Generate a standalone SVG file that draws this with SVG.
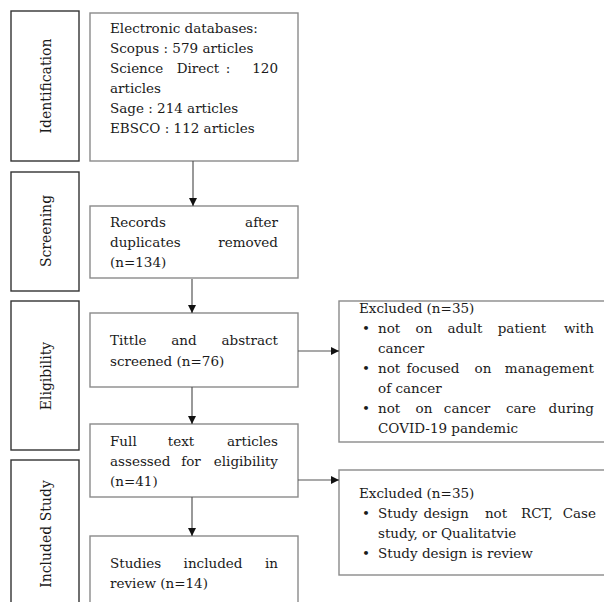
<svg xmlns="http://www.w3.org/2000/svg" width="604" height="602" viewBox="0 0 604 602">
<style>
text{font-family:"DejaVu Serif","Liberation Serif",serif;font-size:13.5px;fill:#1a1a1a}
.stage{fill:#fff;stroke:#333;stroke-width:1.4}
.box{fill:#fff;stroke:#8a8a8a;stroke-width:1.4}
.lbl{text-anchor:middle;font-size:14px}
.m{text-anchor:middle}
.e{text-anchor:end}
.conn{stroke:#555;stroke-width:1.2;fill:none}
</style>
<defs>
<marker id="ah" viewBox="0 0 10 10" refX="10" refY="5" markerWidth="8" markerHeight="8" markerUnits="userSpaceOnUse" orient="auto">
<path d="M0,0 L10,5 L0,10 Z" fill="#111"/>
</marker>
</defs>
<rect width="604" height="602" fill="#fff"/>
<g id="stage-identification">
<rect class="stage" x="11" y="11" width="68" height="150"/>
<text class="lbl" transform="translate(51,86) rotate(-90)">Identification</text>
</g>
<g id="stage-screening">
<rect class="stage" x="11" y="172" width="68" height="119"/>
<text class="lbl" transform="translate(51,231) rotate(-90)">Screening</text>
</g>
<g id="stage-eligibility">
<rect class="stage" x="11" y="301" width="68" height="149"/>
<text class="lbl" transform="translate(51,376) rotate(-90)">Eligibility</text>
</g>
<g id="stage-included">
<rect class="stage" x="11" y="460" width="68" height="160"/>
<text class="lbl" transform="translate(51,534) rotate(-90)">Included Study</text>
</g>
<g id="n-databases">
<rect class="box" x="90" y="13" width="208" height="148"/>
<text x="110" y="33">Electronic databases:</text>
<text x="110" y="53">Scopus : 579 articles</text>
<text x="110" y="73">Science</text><text class="m" x="198" y="73">Direct</text><text class="m" x="228" y="73">:</text><text class="e" x="278" y="73">120</text>
<text x="110" y="93">articles</text>
<text x="110" y="113">Sage : 214 articles</text>
<text x="110" y="133">EBSCO : 112 articles</text>
</g>
<g id="n-records">
<rect class="box" x="90" y="206" width="208" height="72"/>
<text x="110" y="227">Records</text><text class="e" x="278" y="227">after</text>
<text x="110" y="247">duplicates</text><text class="e" x="278" y="247">removed</text>
<text x="110" y="267">(n=134)</text>
</g>
<g id="n-title">
<rect class="box" x="90" y="313" width="208" height="74"/>
<text x="110" y="345">Tittle</text><text class="m" x="184" y="345">and</text><text class="e" x="278" y="345">abstract</text>
<text x="110" y="366">screened (n=76)</text>
</g>
<g id="n-fulltext">
<rect class="box" x="90" y="424" width="208" height="73"/>
<text x="110" y="446">Full</text><text class="m" x="181" y="446">text</text><text class="e" x="278" y="446">articles</text>
<text x="110" y="466">assessed</text><text class="m" x="191" y="466">for</text><text class="e" x="278" y="466">eligibility</text>
<text x="110" y="486">(n=41)</text>
</g>
<g id="n-included">
<rect class="box" x="90" y="536" width="208" height="80"/>
<text x="110" y="568">Studies</text><text class="m" x="213" y="568">included</text><text class="e" x="278" y="568">in</text>
<text x="110" y="588">review (n=14)</text>
</g>
<g id="n-excluded1">
<rect class="box" x="339" y="301" width="280" height="141"/>
<text x="359" y="313">Excluded (n=35)</text>
<text x="362" y="333">•</text>
<text x="378" y="333">not</text><text class="m" x="424" y="333">on</text><text class="m" x="465" y="333">adult</text><text class="m" x="522" y="333">patient</text><text class="e" x="594" y="333">with</text>
<text x="378" y="353">cancer</text>
<text x="362" y="373">•</text>
<text x="378" y="373">not</text><text class="m" x="433" y="373">focused</text><text class="m" x="483" y="373">on</text><text class="e" x="594" y="373">management</text>
<text x="378" y="393">of cancer</text>
<text x="362" y="413">•</text>
<text x="378" y="413">not</text><text class="m" x="424" y="413">on</text><text class="m" x="467" y="413">cancer</text><text class="m" x="521" y="413">care</text><text class="e" x="594" y="413">during</text>
<text x="378" y="433">COVID-19 pandemic</text>
</g>
<g id="n-excluded2">
<rect class="box" x="339" y="470" width="280" height="105"/>
<text x="359" y="498">Excluded (n=35)</text>
<text x="362" y="518">•</text>
<text x="378" y="518">Study</text><text class="m" x="446" y="518">design</text><text class="m" x="496" y="518">not</text><text class="m" x="537" y="518">RCT,</text><text class="e" x="596" y="518">Case</text>
<text x="378" y="538">study, or Qualitatvie</text>
<text x="362" y="558">•</text>
<text x="378" y="558">Study design is review</text>
</g>
<g id="connectors">
<line class="conn" x1="193" y1="161" x2="193" y2="206" marker-end="url(#ah)"/>
<line class="conn" x1="192" y1="279" x2="192" y2="313" marker-end="url(#ah)"/>
<line class="conn" x1="192" y1="387" x2="192" y2="424" marker-end="url(#ah)"/>
<line class="conn" x1="192" y1="497" x2="192" y2="536" marker-end="url(#ah)"/>
<line class="conn" x1="298" y1="351" x2="339" y2="351" marker-end="url(#ah)"/>
<line class="conn" x1="298" y1="480" x2="339" y2="480" marker-end="url(#ah)"/>
</g>
</svg>
